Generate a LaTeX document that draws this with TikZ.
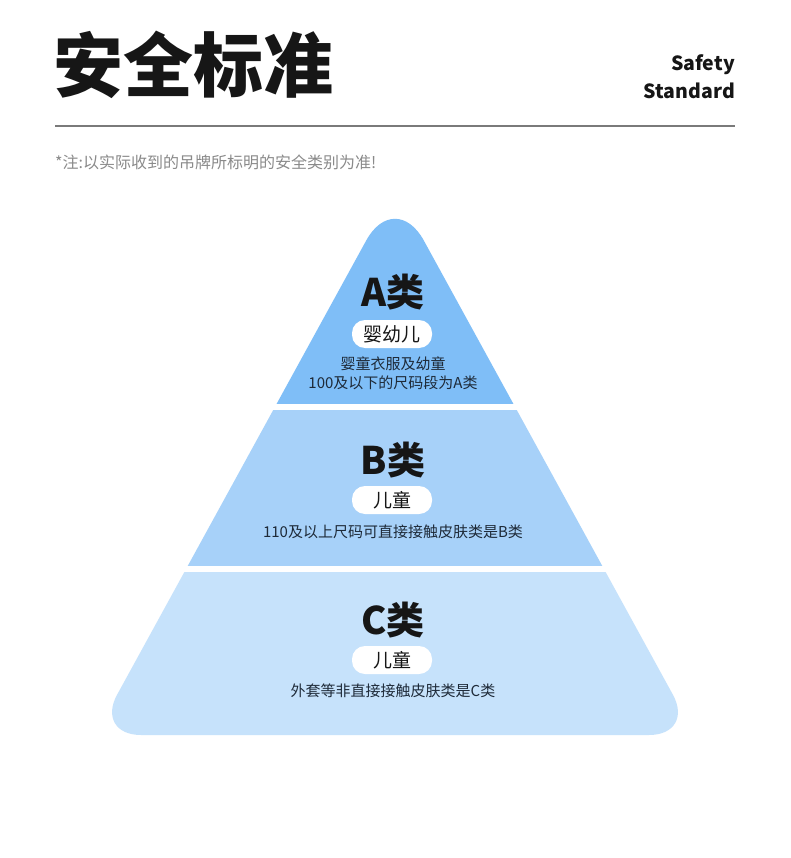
\documentclass[tikz,border=0pt]{standalone}
\usepackage{fontspec}
\setmainfont{Noto Sans CJK SC}
\newfontfamily\cjk{Noto Sans CJK SC}
\definecolor{bandA}{HTML}{7FBEF7}
\definecolor{bandB}{HTML}{A7D1F9}
\definecolor{bandC}{HTML}{C6E2FB}
\definecolor{ink}{HTML}{161616}
\definecolor{descink}{HTML}{1E2A38}
\definecolor{notegray}{HTML}{8A8A8A}
\definecolor{rulegray}{HTML}{7A7A7A}
\tikzset{
  classlabel/.style={font=\cjk\bfseries\fontsize{38}{42}\selectfont, text=ink, inner sep=0pt},
  pill/.style={fill=white, rounded corners=13pt, minimum width=80pt, minimum height=28pt, inner sep=0pt, font=\cjk\fontsize{19}{22}\selectfont, text=ink},
  desc/.style={font=\cjk\fontsize{15}{19}\selectfont, text=descink, align=center, inner sep=0pt},
}
\begin{document}
\begin{tikzpicture}[x=1pt,y=-1pt]
\useasboundingbox (0,0) rectangle (790,858);
\fill[white] (0,0) rectangle (790,858);
% header
\node[anchor=west, inner sep=0pt, font=\cjk\bfseries\fontsize{70}{72}\selectfont, text=ink] (title) at (53,65) {安全标准};
\node[anchor=east, inner sep=0pt, font=\cjk\bfseries\fontsize{19.5}{28}\selectfont, text=ink, align=right] (eng) at (735,77) {Safety\\Standard};
\coordinate (ruleL) at (55,126);
\coordinate (ruleR) at (735,126);
\draw[rulegray, line width=1.2pt] (ruleL) -- (ruleR);
\node[anchor=west, inner sep=0pt, font=\cjk\fontsize{16}{18}\selectfont, text=notegray] (note) at (55,162) {*注:以实际收到的吊牌所标明的安全类别为准!};
% pyramid
\begin{scope}
\clip (395,735) [rounded corners=46pt] -- (695,735) [rounded corners=60pt] -- (395,188) [rounded corners=46pt] -- (95,735) [sharp corners] -- cycle;
\fill[bandA] (0,150) rectangle (790,403.5);
\fill[bandB] (0,410) rectangle (790,565.5);
\fill[bandC] (0,572) rectangle (790,800);
\end{scope}
% band A
\node[classlabel] (Alab) at (393,292) {A类};
\node[pill] (Apill) at (392,334) {婴幼儿};
\node[desc] (Adesc) at (393,373) {婴童衣服及幼童\\100及以下的尺码段为A类};
% band B
\node[classlabel] (Blab) at (393,460) {B类};
\node[pill] (Bpill) at (392,500) {儿童};
\node[desc] (Bdesc) at (393,532) {110及以上尺码可直接接触皮肤类是B类};
% band C
\node[classlabel] (Clab) at (393,620) {C类};
\node[pill] (Cpill) at (392,660) {儿童};
\node[desc] (Cdesc) at (393,691) {外套等非直接接触皮肤类是C类};
\end{tikzpicture}
\end{document}
